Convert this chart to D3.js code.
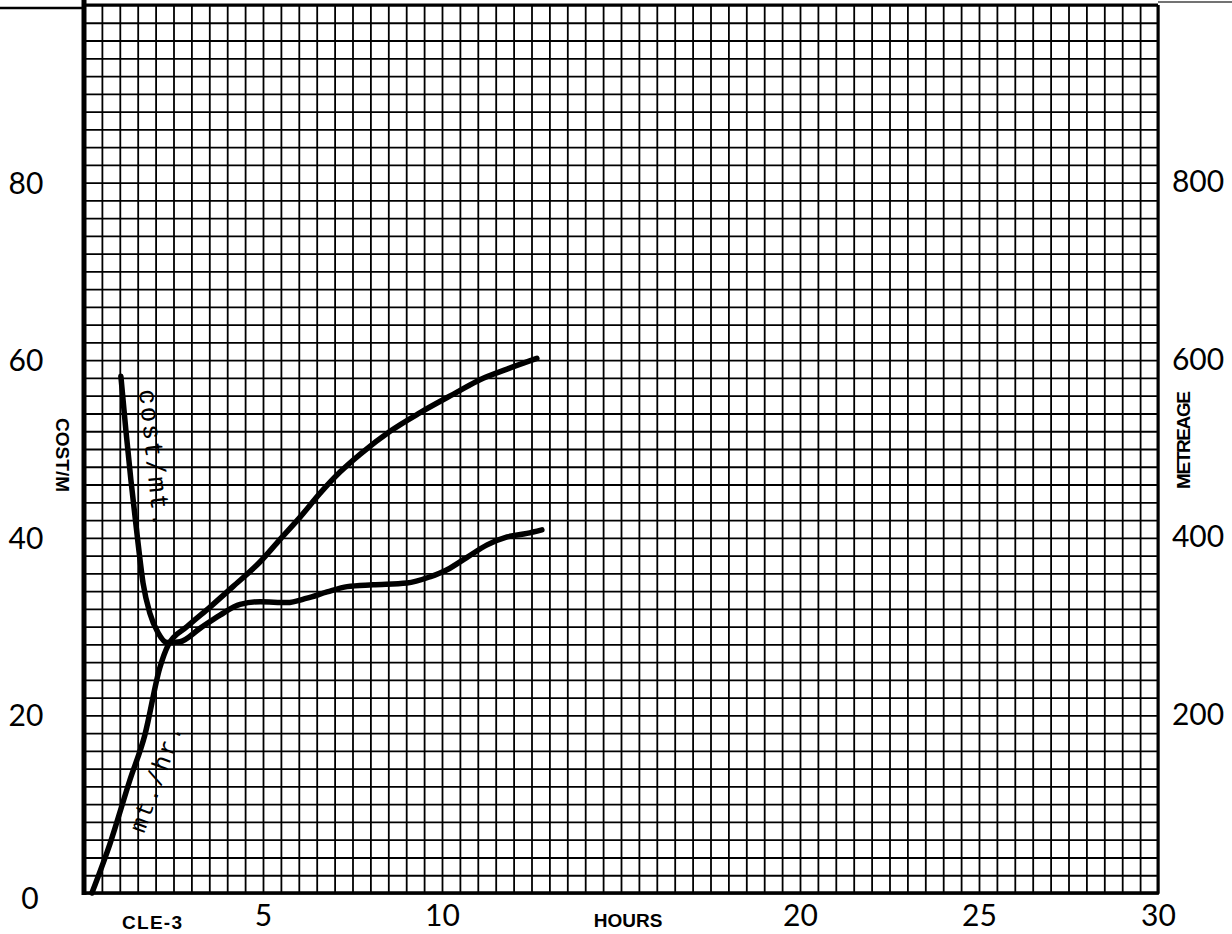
<!DOCTYPE html>
<html>

<head>
  <script src="https://cdn.jsdelivr.net/npm/d3@7"></script>
  <style>
    body {
      margin: 0;
      background: white;
    }

    svg {
      display: block;
    }

    .num {
      font-family: Lato, "DejaVu Sans", sans-serif;
      font-size: 30px;
      fill: black;
    }

    .lab {
      font-family: "Liberation Sans Narrow", "Liberation Sans", sans-serif;
      font-weight: bold;
      font-size: 19px;
      fill: black;
    }

    .note {
      font-family: "Liberation Mono", "DejaVu Sans Mono", monospace;
      fill: black;
    }
  </style>
</head>

<body>
  <script>
    // hours on the bottom, cost per metre on the left, metreage on the right
    const hourTicks = [5, 10, 20, 25, 30]
    const costTicks = [0, 20, 40, 60, 80]
    const metreTicks = [200, 400, 600, 800]

    // metreage curve
    const metreHours = [0.22, 0.73, 1.28, 1.70, 2.12, 2.35, 2.88, 3.52, 4.16, 4.92, 5.47, 6.03, 6.59, 7.15, 7.71, 8.55, 9.39, 10.42, 11.06, 11.82, 12.65]
    const metreage = [0, 56, 127, 178, 254, 279, 300, 322, 345, 373, 398, 423, 450, 474, 494, 520, 541, 564, 578, 590, 602]

    // cost / metre curve
    const costHours = [1.03, 1.17, 1.31, 1.51, 1.65, 1.84, 2.07, 2.32, 2.68, 3.24, 3.80, 4.36, 4.92, 5.67, 6.23, 6.79, 7.35, 8.07, 9.02, 9.66, 10.14, 10.70, 11.26, 11.82, 12.37, 12.79]
    const costPerM = [58.2, 52.1, 46.5, 39.4, 34.9, 31.5, 29.3, 28.2, 28.3, 29.8, 31.3, 32.5, 32.8, 32.7, 33.2, 33.9, 34.5, 34.7, 34.9, 35.6, 36.4, 37.8, 39.2, 40.1, 40.5, 40.9]

    const W = 1232, H = 934
    const gLeft = 84, gRight = 1158, gTop = 5, gBottom = 893

    const svg = d3.select('body').append('svg')
      .attr('width', W)
      .attr('height', H)

    const x = d3.scaleLinear().domain([0, 30]).range([gLeft, gRight])
    const yCost = d3.scaleLinear().domain([0, 100]).range([gBottom, gTop])
    const yMetre = d3.scaleLinear().domain([0, 1000]).range([gBottom, gTop])

    // graph paper
    const grid = svg.append('g')
    grid.append('g')
      .attr('transform', `translate(0,${gBottom})`)
      .call(d3.axisBottom(x).tickValues(d3.range(0, 30.01, 0.5)).tickSize(-(gBottom - gTop)).tickFormat(''))
    grid.append('g')
      .attr('transform', `translate(${gLeft},0)`)
      .call(d3.axisLeft(yCost).tickValues(d3.range(0, 100.01, 2)).tickSize(-(gRight - gLeft)).tickFormat(''))
    grid.selectAll('.domain').remove()
    grid.selectAll('line')
      .attr('stroke', 'black')
      .attr('stroke-width', 1.8)

    // frame
    svg.append('line').attr('x1', 0).attr('x2', gLeft).attr('y1', 8).attr('y2', 8)
      .attr('stroke', 'black').attr('stroke-width', 2.5)
    svg.append('line').attr('x1', gLeft).attr('x2', gRight).attr('y1', gTop).attr('y2', gTop)
      .attr('stroke', 'black').attr('stroke-width', 3)
    svg.append('line').attr('x1', gRight).attr('x2', W).attr('y1', 2).attr('y2', 2)
      .attr('stroke', '#444').attr('stroke-width', 1.5)
    svg.append('line').attr('x1', gLeft).attr('x2', gLeft).attr('y1', 0).attr('y2', gBottom + 2)
      .attr('stroke', 'black').attr('stroke-width', 5)
    svg.append('line').attr('x1', gLeft).attr('x2', gRight + 1).attr('y1', gBottom).attr('y2', gBottom)
      .attr('stroke', 'black').attr('stroke-width', 3.5)
    svg.append('line').attr('x1', gRight).attr('x2', gRight).attr('y1', gTop).attr('y2', gBottom + 1)
      .attr('stroke', 'black').attr('stroke-width', 3)

    // axes
    const ax = svg.append('g').attr('transform', `translate(0,${gBottom})`)
      .call(d3.axisBottom(x).tickValues(hourTicks).tickSize(0).tickPadding(27))
    const ay = svg.append('g').attr('transform', `translate(${gLeft},0)`)
      .call(d3.axisLeft(yCost).tickValues(costTicks).tickSize(0))
    const ay2 = svg.append('g').attr('transform', `translate(${gRight},0)`)
      .call(d3.axisRight(yMetre).tickValues(metreTicks).tickSize(0))

    for (const g of [ax, ay, ay2]) {
      g.select('.domain').remove()
      g.attr('font-size', null).attr('font-family', null)
      g.selectAll('text').attr('class', 'num')
    }
    ay.selectAll('text').attr('x', -58).attr('text-anchor', 'middle').attr('dy', '0.35em')
    ay.selectAll('text').filter(d => d === 0).attr('x', -54).attr('dy', '0.5em')
    ay2.selectAll('text').attr('x', 40).attr('text-anchor', 'middle').attr('dy', '0.3em')
    ax.selectAll('text').attr('dy', '0.2em')

    svg.append('text').attr('class', 'lab')
      .attr('x', 152).attr('y', 929).attr('text-anchor', 'middle').attr('textLength', 60).text('CLE-3')
    svg.append('text').attr('class', 'lab')
      .attr('x', 628).attr('y', 927).attr('text-anchor', 'middle').attr('font-size', 18).text('HOURS')
    svg.append('text').attr('class', 'lab')
      .attr('transform', 'translate(56,455) rotate(90)').attr('text-anchor', 'middle')
      .attr('textLength', 74).text('COST/M')
    svg.append('text').attr('class', 'lab')
      .attr('transform', 'translate(1190,440) rotate(-90)').attr('text-anchor', 'middle')
      .attr('font-size', 18).attr('textLength', 98).text('METREAGE')

    // curves
    const metreLine = d3.line()
      .x((d, i) => x(metreHours[i]))
      .y(d => yMetre(d))
      .curve(d3.curveMonotoneX)
    const costLine = d3.line()
      .x((d, i) => x(costHours[i]))
      .y(d => yCost(d))
      .curve(d3.curveMonotoneX)

    svg.append('path').attr('d', metreLine(metreage))
      .attr('fill', 'none').attr('stroke', 'black').attr('stroke-width', 5.5).attr('stroke-linecap', 'round')
    svg.append('path').attr('d', costLine(costPerM))
      .attr('fill', 'none').attr('stroke', 'black').attr('stroke-width', 5.5).attr('stroke-linecap', 'round')

    // typed notes on the curves
    svg.append('text').attr('class', 'note').attr('font-size', 26)
      .attr('transform', 'translate(139,390) rotate(84)').attr('letter-spacing', 2).text('cost/mt.')
    svg.append('text').attr('class', 'note').attr('font-size', 24)
      .attr('transform', 'translate(144,834) rotate(-70)').attr('letter-spacing', 2).text('mt./hr.')
  </script>
</body>

</html>
